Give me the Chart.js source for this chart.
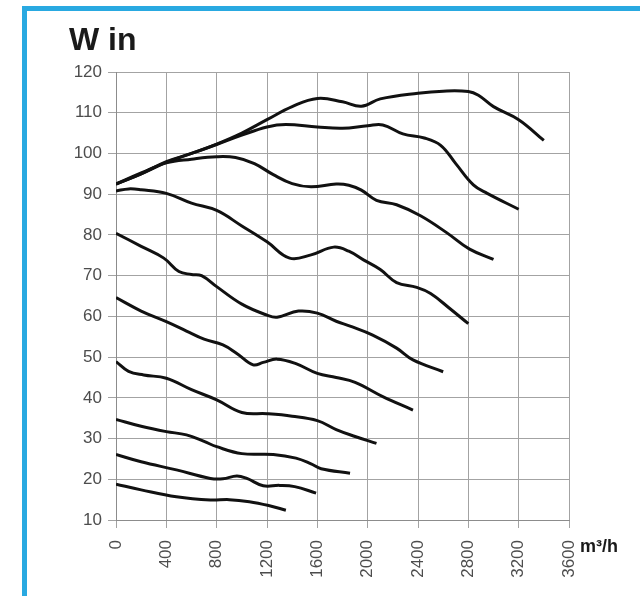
<!DOCTYPE html>
<html>
<head>
<meta charset="utf-8">
<script src="https://cdn.jsdelivr.net/npm/chart.js@4.4.0/dist/chart.umd.min.js"></script>
<style>
  html, body { margin: 0; padding: 0; background: #fff; }
  #wrap { position: relative; width: 640px; height: 596px; overflow: hidden; }
  #frame {
    position: absolute; left: 22px; top: 6px; right: 0; bottom: 0;
    border-left: 5px solid #29a9e1; border-top: 5px solid #29a9e1;
  }
  canvas { position: absolute; left: 0; top: 0; }
</style>
</head>
<body>
<div id="wrap">
  <div id="frame"></div>
  <canvas id="chart" width="640" height="596"></canvas>
</div>
<script>
// Leistungsaufnahme (W in) über Volumenstrom (m³/h), eine Kurve je Stufe
const flow1 = [0, 200, 400, 600, 800, 1000, 1200, 1400, 1600, 1800, 1950, 2100, 2400, 2600, 2800, 2880, 3000, 3200, 3400];
const watts1 = [92.5, 95, 98, 100, 102.3, 105, 108.3, 111.5, 113.5, 112.7, 111.6, 113.4, 114.8, 115.3, 115.2, 114.3, 111.5, 108.3, 103.2];

const flow2 = [0, 200, 400, 600, 800, 1000, 1200, 1350, 1600, 1800, 2000, 2120, 2280, 2450, 2580, 2700, 2840, 2950, 3200];
const watts2 = [92.5, 95, 97.8, 100, 102.2, 104.5, 106.5, 107.1, 106.5, 106.2, 106.8, 107, 104.8, 103.8, 102, 97.5, 92.3, 90.2, 86.3];

const flow3 = [0, 200, 400, 600, 800, 950, 1100, 1250, 1400, 1550, 1750, 1850, 1950, 2070, 2230, 2420, 2630, 2810, 3000];
const watts3 = [92.5, 95.2, 97.7, 98.6, 99.2, 99, 97.5, 94.8, 92.6, 91.8, 92.5, 92.2, 91, 88.5, 87.4, 84.7, 80.5, 76.5, 74];

const flow4 = [0, 100, 200, 400, 600, 800, 1000, 1200, 1380, 1550, 1730, 1850, 1970, 2100, 2230, 2390, 2500, 2650, 2800];
const watts4 = [90.8, 91.3, 91.1, 90.2, 87.8, 86, 82.2, 78.3, 74.3, 75.1, 77, 76, 73.8, 71.5, 68.3, 67.1, 65.6, 62, 58.2];

const flow5 = [0, 200, 380, 500, 600, 680, 800, 1000, 1200, 1280, 1450, 1600, 1750, 1860, 2040, 2230, 2360, 2600];
const watts5 = [80.4, 77.2, 74.3, 71, 70.3, 70, 67.3, 63, 60.3, 59.8, 61.3, 60.8, 58.8, 57.6, 55.4, 52.2, 49.3, 46.4];

const flow6 = [0, 200, 400, 560, 700, 850, 960, 1090, 1170, 1280, 1430, 1600, 1750, 1900, 2120, 2360];
const watts6 = [64.6, 61.3, 58.7, 56.4, 54.4, 53, 50.9, 48.1, 48.7, 49.5, 48.4, 46, 45, 43.8, 40.3, 37];

const flow7 = [0, 100, 220, 400, 600, 800, 1000, 1200, 1400, 1600, 1750, 1900, 2070];
const watts7 = [48.9, 46.5, 45.6, 44.8, 42, 39.5, 36.4, 36.1, 35.5, 34.4, 32.2, 30.5, 28.8];

const flow8 = [0, 200, 400, 560, 700, 800, 1000, 1250, 1430, 1550, 1630, 1860];
const watts8 = [34.7, 33, 31.7, 30.9, 29.3, 28, 26.3, 26.1, 25.2, 23.8, 22.6, 21.5];

const flow9 = [0, 200, 480, 750, 850, 960, 1040, 1170, 1300, 1420, 1590];
const watts9 = [26.1, 24.3, 22.3, 20.2, 20.1, 20.8, 20.2, 18.4, 18.5, 18.2, 16.6];

const flow10 = [0, 200, 480, 750, 900, 1060, 1220, 1350];
const watts10 = [18.8, 17.4, 15.7, 14.9, 15, 14.5, 13.5, 12.4];

const curves = [
  [flow1, watts1], [flow2, watts2], [flow3, watts3], [flow4, watts4], [flow5, watts5],
  [flow6, watts6], [flow7, watts7], [flow8, watts8], [flow9, watts9], [flow10, watts10],
];

const titleText = "W in";
const unitText = "m³/h";

// Achsenbeschriftung und Einheit direkt auf die Zeichenfläche
const labelsPlugin = {
  id: "labels",
  afterDraw(chart) {
    const ctx = chart.ctx;
    ctx.save();
    ctx.fillStyle = "#1a1a1a";
    ctx.textBaseline = "alphabetic";
    ctx.textAlign = "left";
    ctx.font = "bold 32px 'Liberation Sans', Arial, sans-serif";
    ctx.fillText(titleText, 69, 50);
    ctx.font = "bold 18px 'Liberation Sans', Arial, sans-serif";
    ctx.fillText(unitText, 580, 552);
    ctx.restore();
  }
};

const gridColor = "#a3a3a3";
const tickFont = { family: "'Liberation Sans', Arial, sans-serif", size: 17 };

new Chart(document.getElementById("chart"), {
  type: "line",
  data: {
    datasets: curves.map(([xs, ys]) => ({
      data: xs.map((x, i) => ({ x, y: ys[i] })),
      borderColor: "#111",
      borderWidth: 3,
      pointRadius: 0,
      tension: 0.4,
      fill: false,
    })),
  },
  options: {
    responsive: false,
    animation: false,
    layout: { padding: { top: 72, right: 71, bottom: 0, left: 0 } },
    plugins: { legend: { display: false }, tooltip: { enabled: false } },
    scales: {
      x: {
        type: "linear",
        min: 0,
        max: 3600,
        afterFit(scale) { scale.height = 76; },
        ticks: {
          stepSize: 400,
          minRotation: 90,
          maxRotation: 90,
          padding: 12,
          color: "#4d4d4d",
          font: tickFont,
          callback: (v) => String(v),
        },
        grid: { color: gridColor, lineWidth: 1, tickLength: 8 },
        border: { color: "#8c8c8c", width: 1 },
      },
      y: {
        min: 10,
        max: 120,
        afterFit(scale) { scale.width = 116; },
        ticks: { stepSize: 10, padding: 6, color: "#4d4d4d", font: tickFont },
        grid: { color: gridColor, lineWidth: 1, tickLength: 8 },
        border: { color: "#8c8c8c", width: 1 },
      },
    },
  },
  plugins: [labelsPlugin],
});
</script>
</body>
</html>
